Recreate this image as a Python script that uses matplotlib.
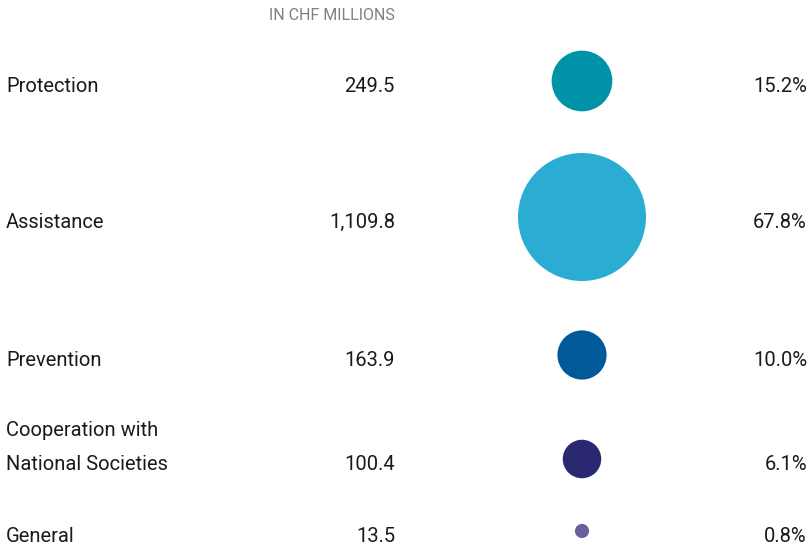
import matplotlib
matplotlib.use("Agg")
import matplotlib.pyplot as plt
import numpy as np

categories = ["Protection", "Assistance", "Prevention",
              "Cooperation with\nNational Societies", "General"]
values = [249.5, 1109.8, 163.9, 100.4, 13.5]
value_labels = ["249.5", "1,109.8", "163.9", "100.4", "13.5"]
shares = ["15.2%", "67.8%", "10.0%", "6.1%", "0.8%"]
colors = ["#0093a7", "#2bacd3", "#005a9a", "#2a2870", "#6b5e9e"]

# layout (pixels, from the top)
W, H = 812, 545
row_y = [81, 217, 355, 459, 531]
text_dy = 5
circle_x = 582
max_diam = 128
fs = 14.5

plt.rcParams['font.family'] = ['Liberation Sans Narrow', 'Roboto', 'DejaVu Sans']

fig = plt.figure(figsize=(W / 100, H / 100), dpi=100)
ax = fig.add_axes([0, 0, 1, 1])
ax.set_xlim(0, W)
ax.set_ylim(H, 0)
ax.axis('off')

# bubble area proportional to value, biggest one ~128 px across
diam_px = max_diam * np.sqrt(np.array(values) / max(values))
sizes = (diam_px * 72 / 100) ** 2
ax.scatter([circle_x] * len(values), row_y, s=sizes, c=colors, linewidths=0)

ax.text(395, 16, "IN CHF MILLIONS", ha='right', va='center',
        fontsize=11.5, color='#808080')

for i, cat in enumerate(categories):
    y = row_y[i] + text_dy
    if "\n" in cat:
        first, second = cat.split("\n")
        ax.text(6, y - 33, first, ha='left', va='center', fontsize=fs, color='#1a1a1a')
        ax.text(6, y, second, ha='left', va='center', fontsize=fs, color='#1a1a1a')
    else:
        ax.text(6, y, cat, ha='left', va='center', fontsize=fs, color='#1a1a1a')
    ax.text(395, y, value_labels[i], ha='right', va='center', fontsize=fs, color='#1a1a1a')
    ax.text(807, y, shares[i], ha='right', va='center', fontsize=fs, color='#1a1a1a')

fig.savefig("out.png", dpi=100)
